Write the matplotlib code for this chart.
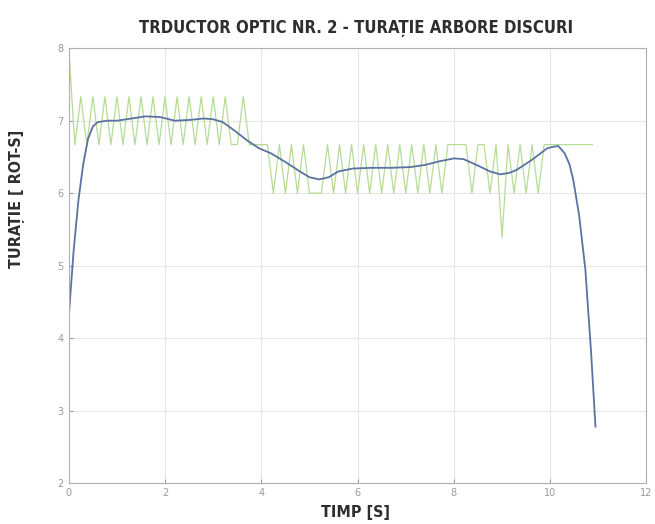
import matplotlib
matplotlib.use("Agg")
import matplotlib.pyplot as plt
import numpy as np

# raw optical sensor signal (sampled every 0.125 s)
raw_dt = 0.125
raw_rpm = [8.0, 6.67, 7.33, 6.67, 7.33, 6.67, 7.33, 6.67, 7.33, 6.67,
           7.33, 6.67, 7.33, 6.67, 7.33, 6.67, 7.33, 6.67, 7.33, 6.67,
           7.33, 6.67, 7.33, 6.67, 7.33, 6.67, 7.33, 6.67, 6.67, 7.33,
           6.67, 6.67, 6.67, 6.67, 6.0, 6.67, 6.0, 6.67, 6.0, 6.67,
           6.0, 6.0, 6.0, 6.67, 6.0, 6.67, 6.0, 6.67, 6.0, 6.67,
           6.0, 6.67, 6.0, 6.67, 6.0, 6.67, 6.0, 6.67, 6.0, 6.67,
           6.0, 6.67, 6.0, 6.67, 6.67, 6.67, 6.67, 6.0, 6.67, 6.67,
           6.0, 6.67, 5.39, 6.67, 6.0, 6.67, 6.0, 6.67, 6.0, 6.67,
           6.67, 6.67, 6.67, 6.67, 6.67, 6.67, 6.67, 6.67]

# filtered speed
filt_t = [0.0, 0.1, 0.2, 0.3, 0.4, 0.5, 0.6, 0.8, 1.0, 1.3, 1.6, 1.9,
          2.2, 2.5, 2.8, 3.0, 3.2, 3.45, 3.7, 3.95, 4.2, 4.5, 4.8, 5.0,
          5.2, 5.4, 5.6, 5.9, 6.3, 6.7, 7.1, 7.4, 7.7, 8.0, 8.2, 8.5,
          8.75, 8.96, 9.15, 9.3, 9.6, 9.94, 10.06, 10.17, 10.3, 10.4,
          10.48, 10.6, 10.73, 10.85, 10.94]
filt_rpm = [4.3, 5.2, 5.9, 6.4, 6.75, 6.92, 6.98, 7.0, 7.0, 7.03, 7.06, 7.05,
            7.0, 7.01, 7.03, 7.02, 6.98, 6.86, 6.73, 6.62, 6.55, 6.43, 6.3, 6.22,
            6.19, 6.22, 6.3, 6.34, 6.35, 6.35, 6.36, 6.39, 6.44, 6.48, 6.47, 6.38,
            6.3, 6.26, 6.28, 6.32, 6.45, 6.62, 6.64, 6.65, 6.55, 6.4,
            6.18, 5.7, 4.95, 3.8, 2.78]

raw_t = np.arange(len(raw_rpm)) * raw_dt

fig = plt.figure(figsize=(6.55, 5.24), dpi=100)
ax = fig.add_axes([0.105, 0.078, 0.882, 0.83])

ax.plot(raw_t, raw_rpm, color="#b4dc96", lw=0.9)
ax.plot(filt_t, filt_rpm, color="#5a72a2", lw=1.3)

ax.set_xlim(0, 12)
ax.set_ylim(2, 8)
ax.set_xticks(range(0, 13, 2))
ax.set_yticks(range(2, 9))
ax.grid(True, color="#e6e6e6", lw=0.8)
ax.set_axisbelow(True)
for s in ax.spines.values():
    s.set_color("#b0b0b0")
ax.tick_params(colors="#9a9a9a", labelsize=7, length=3, direction="in")

txt = dict(family="DejaVu Sans", fontstretch="condensed", color="#2e2e2e",
           fontweight="bold")
fig.text(0.543, 0.947, "TRDUCTOR OPTIC NR. 2 - TURAȚIE ARBORE DISCURI",
         ha="center", va="center", fontsize=12, **txt)
fig.text(0.542, 0.022, "TIMP [S]", ha="center", va="center", fontsize=11.5,
         **txt)
fig.text(0.026, 0.62, "TURAȚIE [ ROT-S]", ha="center", va="center",
         rotation=90, fontsize=11.5, **txt)

fig.savefig("out.png", dpi=100)
